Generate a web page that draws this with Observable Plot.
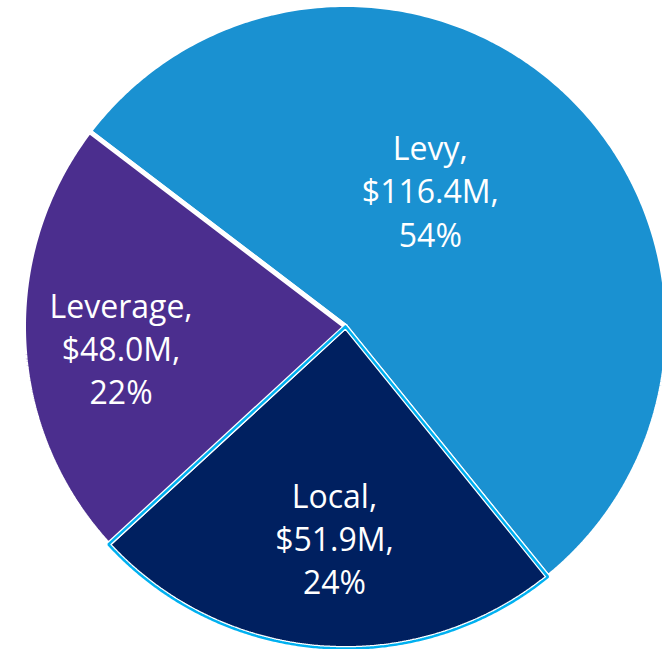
<!DOCTYPE html>
<html>
<head>
<meta charset="utf-8">
<script src="https://cdn.jsdelivr.net/npm/d3@7"></script>
<script src="https://cdn.jsdelivr.net/npm/@observablehq/plot@0.6"></script>
<style>
  html, body { margin: 0; padding: 0; background: #fff; overflow: hidden; }
  #chart svg { display: block; overflow: hidden; }
</style>
</head>
<body>
<div id="chart"></div>
<script>
// ---- Data ----
const categories = ["Levy", "Local", "Leverage"];
const values = [116.4, 51.9, 48.0];           // $M
const colors = ["#1A91D1", "#002060", "#4B2E8E"];

// ---- Layout (not data) ----
const W = 662, H = 649;
const CX = 345, CY = 326, R = 322;           // pie centre / radius in px
const startDeg = -52.7;                      // first slice start, clockwise from 12 o'clock
const labelAngleDeg = [31.8, 183, 264.7];    // label anchors (polar)
const labelRadius = [0.50, 0.655, 0.70];

const total = d3.sum(values);
const pie = d3.pie().sort(null)
  .startAngle(startDeg * Math.PI / 180)
  .endAngle(startDeg * Math.PI / 180 + 2 * Math.PI);
const arcs = pie(values);

// polygon vertices for each slice (unit radius, centre at 0,0)
const pts = [];
arcs.forEach((a, i) => {
  const name = categories[i];
  pts.push({name, u: 0, v: 0});
  const n = 240;
  for (let k = 0; k <= n; k++) {
    const t = a.startAngle + (a.endAngle - a.startAngle) * k / n;
    pts.push({name, u: Math.sin(t), v: Math.cos(t)});
  }
  pts.push({name, u: 0, v: 0});
});

const labels = categories.map((name, i) => {
  const t = labelAngleDeg[i] * Math.PI / 180;
  const pct = Math.round(values[i] / total * 100);
  return {
    name,
    u: labelRadius[i] * Math.sin(t),
    v: labelRadius[i] * Math.cos(t),
    text: `${name},\n$${values[i].toFixed(1)}M,\n${pct}%`
  };
});

const chart = Plot.plot({
  width: W,
  height: H,
  margin: 0,
  x: {domain: [-CX / R, (W - CX) / R], axis: null},
  y: {domain: [(CY - H) / R, CY / R], axis: null},
  color: {domain: categories, range: colors},
  style: {background: "white"},
  marks: [
    Plot.line(pts, {
      x: "u", y: "v", z: "name", fill: "name",
      stroke: "white", strokeWidth: 5, strokeLinejoin: "miter", strokeOpacity: 1
    }),
    Plot.line(pts.filter(d => d.name === "Local"), {
      x: "u", y: "v", fill: "none",
      stroke: "#00B0F0", strokeWidth: 2.5, strokeLinejoin: "miter"
    }),
    Plot.text(labels, {
      x: "u", y: "v", text: "text",
      fill: "white", fontSize: 32, lineHeight: 1.35,
      fontFamily: "'Open Sans', sans-serif",
      textAnchor: "middle", lineAnchor: "middle"
    })
  ]
});
document.getElementById("chart").append(chart);
</script>
</body>
</html>
